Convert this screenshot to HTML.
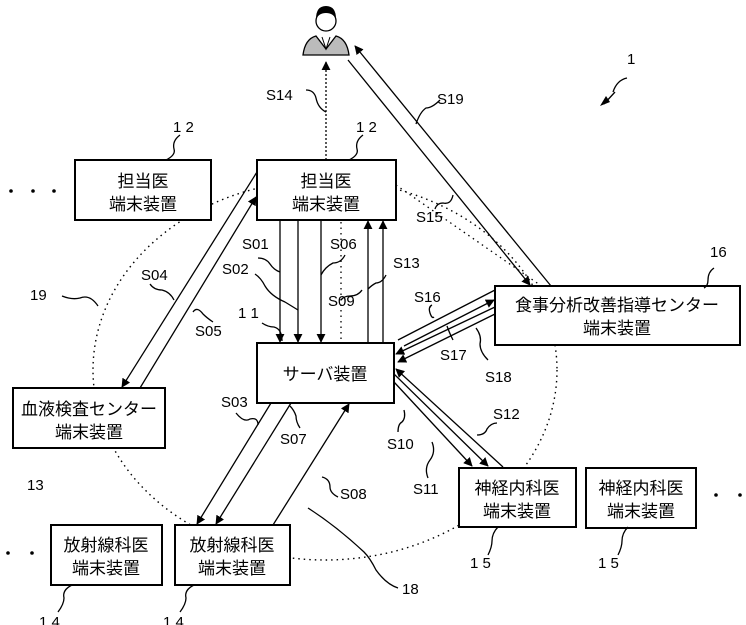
<!DOCTYPE html>
<html><head><meta charset="utf-8"><style>
html,body{margin:0;padding:0;background:#fff;}
svg{display:block;}
text{font-family:"Liberation Sans","Noto Sans CJK JP",sans-serif;fill:#000;}
.j{font-size:17px;text-anchor:middle;}
.l{font-size:15px;}
</style></head><body>
<svg width="746" height="625" viewBox="0 0 746 625" xmlns="http://www.w3.org/2000/svg">
<defs>
<marker id="a" viewBox="0 0 10 10" refX="9" refY="5" markerWidth="9" markerHeight="9" orient="auto-start-reverse" markerUnits="userSpaceOnUse"><path d="M0,0L10,5L0,10z" fill="#000"/></marker>
</defs>
<g fill="none" stroke="#000" stroke-width="1.3">
<ellipse cx="325" cy="370" rx="232" ry="190" stroke-dasharray="1.5,4" stroke-width="1.4"/>
<line x1="326" y1="160" x2="326" y2="62" stroke-dasharray="2,2" marker-end="url(#a)"/>
<line x1="551" y1="286" x2="355" y2="46" marker-end="url(#a)"/>
<line x1="348" y1="60" x2="530" y2="285" marker-end="url(#a)"/>
<line x1="396" y1="185" x2="540" y2="285" stroke-dasharray="1.5,4"/>
<line x1="280" y1="220" x2="280" y2="342" marker-end="url(#a)"/>
<line x1="298" y1="220" x2="298" y2="342" marker-end="url(#a)"/>
<line x1="321" y1="220" x2="321" y2="342" marker-end="url(#a)"/>
<line x1="341" y1="222" x2="341" y2="342" stroke-dasharray="1.5,4"/>
<line x1="368" y1="343" x2="368" y2="221" marker-end="url(#a)"/>
<line x1="383" y1="343" x2="383" y2="221" marker-end="url(#a)"/>
<line x1="257" y1="172" x2="122" y2="387" marker-end="url(#a)"/>
<line x1="140" y1="388" x2="256" y2="197" marker-end="url(#a)"/>
<line x1="271" y1="403" x2="197" y2="524" marker-end="url(#a)"/>
<line x1="291" y1="403" x2="216" y2="524" marker-end="url(#a)"/>
<line x1="273" y1="525" x2="349" y2="404" marker-end="url(#a)"/>
<line x1="394" y1="382" x2="472" y2="466" marker-end="url(#a)"/>
<line x1="394" y1="374" x2="488" y2="466" marker-end="url(#a)"/>
<line x1="503" y1="467" x2="396" y2="369" marker-end="url(#a)"/>
<line x1="398" y1="340" x2="495" y2="290"/>
<line x1="404" y1="346" x2="494" y2="300" marker-end="url(#a)"/>
<line x1="495" y1="307" x2="396" y2="354" marker-end="url(#a)"/>
<line x1="495" y1="314" x2="398" y2="362" marker-end="url(#a)"/>
<rect x="75" y="160" width="136" height="60" fill="#fff" stroke-width="2"/>
<rect x="257" y="160" width="139" height="60" fill="#fff" stroke-width="2"/>
<rect x="257" y="343" width="137" height="60" fill="#fff" stroke-width="2"/>
<rect x="495" y="286" width="245" height="59" fill="#fff" stroke-width="2"/>
<rect x="13" y="388" width="152" height="60" fill="#fff" stroke-width="2"/>
<rect x="51" y="525" width="111" height="60" fill="#fff" stroke-width="2"/>
<rect x="175" y="525" width="115" height="60" fill="#fff" stroke-width="2"/>
<rect x="459" y="468" width="117" height="59" fill="#fff" stroke-width="2"/>
<rect x="586" y="468" width="110" height="60" fill="#fff" stroke-width="2"/>
<path d="M306,90 q8,0 10,8 q2,10 10,14"/>
<path d="M440,100 q-8,8 -14,8 q-6,4 -10,16"/>
<path d="M180,135 q-8,6 -6,14 q2,6 -8,11"/>
<path d="M363,135 q-8,6 -6,14 q2,6 -8,11"/>
<path d="M453,195 q-2,10 -10,8 q-6,0 -8,6"/>
<path d="M258,258 q8,0 12,6 q4,6 10,8"/>
<path d="M255,274 q6,4 10,12 q6,10 20,16 M285,302 L298,310"/>
<path d="M345,255 q-4,8 -12,8 q-8,4 -12,12"/>
<path d="M150,284 q4,6 12,6 q8,2 12,10"/>
<path d="M362,290 q-4,6 -12,6 q-6,0 -9,4"/>
<path d="M386,275 q-4,8 -10,8 q-4,2 -8,6"/>
<path d="M432,305 q-4,2 -2,8 q2,6 4,4"/>
<path d="M453,340 q-4,-8 -6,-14"/>
<path d="M488,360 q-8,-8 -8,-16 q2,-8 -4,-16"/>
<path d="M714,268 q-6,4 -6,12 q0,6 -4,8"/>
<path d="M627,78 q-10,2 -14,14 M615,92 L604,104"/>
<path d="M62,296 q10,4 18,2 q10,-4 18,8"/>
<path d="M262,323 q6,4 12,4 q8,2 8,14"/>
<path d="M213,322 q-6,-4 -10,-8 q-6,-8 -10,-2"/>
<path d="M236,413 q8,10 14,6 q8,-2 8,6"/>
<path d="M300,428 q-4,-6 -4,-12 q-2,-6 -6,-10"/>
<path d="M398,432 q0,-8 4,-10 q4,-4 2,-12"/>
<path d="M497,423 q-6,0 -10,6 q-2,6 -10,6"/>
<path d="M428,478 q-4,-10 2,-18 q6,-8 2,-18"/>
<path d="M338,497 q-8,-4 -8,-10 q0,-8 -8,-10"/>
<path d="M398,588 q-12,-4 -22,-18 q-6,-12 -12,-18 q-28,-26 -56,-44"/>
<path d="M488,555 q4,-8 4,-14 q0,-8 6,-14"/>
<path d="M618,555 q4,-8 4,-14 q0,-8 6,-14"/>
<path d="M58,612 q6,-8 6,-14 q-2,-8 8,-13"/>
<path d="M180,612 q6,-8 6,-14 q-2,-8 8,-13"/>
</g>
<g fill="#000"><path d="M600,106 l10,-4 l-4,-6 z"/></g>
<g>
<path d="M303,55 q2,-16 13,-19 l10,13 l10,-13 q11,3 13,19 z" fill="#bbb" stroke="#000" stroke-width="1.3"/>
<circle cx="326" cy="21" r="10" fill="#fff" stroke="#000" stroke-width="1.3"/>
<path d="M316,19 q0,-13 10,-13 q10,0 10,13 q-3,-6 -10,-6 q-7,0 -10,6z" fill="#000"/>
<path d="M322,37 l4,12 l4,-12" fill="none" stroke="#000"/>
</g>
<text class="j" x="143" y="187">担当医</text><text class="j" x="143" y="210">端末装置</text>
<text class="j" x="326" y="187">担当医</text><text class="j" x="326" y="210">端末装置</text>
<text class="j" x="325" y="380">サーバ装置</text>
<text class="j" x="617" y="311">食事分析改善指導センター</text><text class="j" x="617" y="334">端末装置</text>
<text class="j" x="89" y="415">血液検査センター</text><text class="j" x="89" y="438">端末装置</text>
<text class="j" x="106" y="551">放射線科医</text><text class="j" x="106" y="574">端末装置</text>
<text class="j" x="232" y="551">放射線科医</text><text class="j" x="232" y="574">端末装置</text>
<text class="j" x="517" y="494">神経内科医</text><text class="j" x="517" y="517">端末装置</text>
<text class="j" x="641" y="494">神経内科医</text><text class="j" x="641" y="517">端末装置</text>
<g class="l">
<text x="266" y="100">S14</text><text x="437" y="104">S19</text>
<text x="173" y="132">1 2</text><text x="356" y="132">1 2</text>
<text x="416" y="222">S15</text><text x="242" y="249">S01</text><text x="330" y="249">S06</text>
<text x="222" y="274">S02</text><text x="141" y="280">S04</text><text x="328" y="306">S09</text>
<text x="393" y="268">S13</text><text x="414" y="302">S16</text><text x="440" y="360">S17</text>
<text x="485" y="382">S18</text><text x="710" y="257">16</text><text x="627" y="64">1</text>
<text x="30" y="300">19</text><text x="238" y="318">1 1</text><text x="195" y="336">S05</text>
<text x="221" y="407">S03</text><text x="280" y="444">S07</text><text x="387" y="449">S10</text>
<text x="493" y="419">S12</text><text x="413" y="494">S11</text><text x="340" y="499">S08</text>
<text x="27" y="490">13</text><text x="402" y="594">18</text>
<text x="470" y="568">1 5</text><text x="598" y="568">1 5</text>
<text x="39" y="627">1 4</text><text x="163" y="627">1 4</text>
</g>
<g fill="#000">
<circle cx="11" cy="191" r="1.8"/><circle cx="33" cy="191" r="1.8"/><circle cx="54" cy="191" r="1.8"/>
<circle cx="8" cy="553" r="1.8"/><circle cx="32" cy="553" r="1.8"/>
<circle cx="716" cy="495" r="1.8"/><circle cx="740" cy="495" r="1.8"/>
</g>
</svg>
</body></html>
